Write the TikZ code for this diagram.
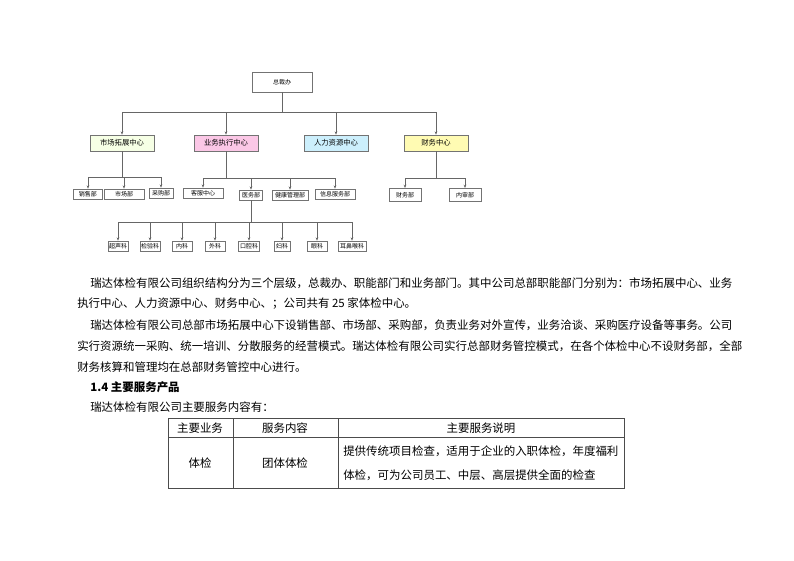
\documentclass[tikz,border=0pt]{standalone}
\usepackage{fontspec}
\setmainfont{Noto Sans CJK SC}
\usetikzlibrary{arrows.meta}
\begin{document}
\begin{tikzpicture}[x=0.75pt,y=-0.75pt,
 box/.style={draw=black!55,line width=0.5pt,fill=white,inner sep=0pt,font=\fontsize{4.5}{5}\selectfont,minimum height=7.5pt},
 cbox/.style={box,minimum height=12pt,minimum width=48pt,font=\fontsize{5.5}{6}\selectfont},
 ln/.style={draw=black!60,line width=0.6pt},
 ar/.style={ln,-{Stealth[length=2.5pt,width=2pt]}},
 para/.style={anchor=west,inner sep=0pt,font=\fontsize{8.6}{10}\selectfont},
 cell/.style={inner sep=0pt,font=\fontsize{8.6}{10}\selectfont}]
\useasboundingbox[fill=white] (0,0) rectangle (794,561);
\node[box,minimum width=45pt,minimum height=15pt] (top) at (282,82) {总裁办};
\node[cbox,fill=green!12!lime!10] (m) at (122,143) {市场拓展中心};
\node[cbox,fill=magenta!22] (y) at (226,143) {业务执行中心};
\node[cbox,fill=cyan!20] (r) at (336,143) {人力资源中心};
\node[cbox,fill=yellow!30] (c) at (436,143) {财务中心};
\coordinate (b1) at (282,112);
\draw[ln] (top) -- (b1);
\foreach \n in {m,y,r,c}{\draw[ar] (b1) -| (\n.north);}
% level 3
\node[box,minimum width=22pt] (m1) at (88,194) {销售部};
\node[box,minimum width=30pt] (m2) at (124,194) {市场部};
\node[box,minimum width=18pt] (m3) at (161,193) {采购部};
\node[box,minimum width=30pt] (y1) at (203,193) {客服中心};
\node[box,minimum width=17pt] (y2) at (251,195) {医务部};
\node[box,minimum width=27pt] (y3) at (290,195) {健康管理部};
\node[box,minimum width=30pt] (y4) at (335,194) {信息服务部};
\node[box,minimum width=24pt,minimum height=10pt] (c1) at (405,195) {财务部};
\node[box,minimum width=24pt,minimum height=10pt] (c2) at (465,195) {内审部};
\coordinate (bm) at (122,177);
\coordinate (by) at (226,178);
\coordinate (bc) at (436,178);
\draw[ln] (m) -- (bm); \draw[ln] (y) -- (by); \draw[ln] (c) -- (bc);
\foreach \n in {m1,m2,m3}{\draw[ar] (bm) -| (\n.north);}
\foreach \n in {y1,y2,y3,y4}{\draw[ar] (by) -| (\n.north);}
\foreach \n in {c1,c2}{\draw[ar] (bc) -| (\n.north);}
% level 4
\coordinate (bk) at (251,222);
\draw[ln] (y2) -- (bk);
\foreach \n/\x/\w/\t in {k1/118/15/超声科,k2/150/15/检验科,k3/182/15/内科,k4/215/15/外科,k5/249/16/口腔科,k6/282/12/妇科,k7/317/15/眼科,k8/352/21/耳鼻喉科}{
 \node[box,minimum width=\w pt] (\n) at (\x,246) {\t};
 \draw[ar] (bk) -| (\n.north);}
% text
\node[para] (p1) at (90,283) {瑞达体检有限公司组织结构分为三个层级，总裁办、职能部门和业务部门。其中公司总部职能部门分别为：市场拓展中心、业务};
\node[para] (p2) at (77,304) {执行中心、人力资源中心、财务中心、；公司共有 25 家体检中心。};
\node[para] (p3) at (90,325) {瑞达体检有限公司总部市场拓展中心下设销售部、市场部、采购部，负责业务对外宣传，业务洽谈、采购医疗设备等事务。公司};
\node[para] (p4) at (77,346) {实行资源统一采购、统一培训、分散服务的经营模式。瑞达体检有限公司实行总部财务管控模式，在各个体检中心不设财务部，全部};
\node[para] (p5) at (77,367) {财务核算和管理均在总部财务管控中心进行。};
\node[para,font=\fontsize{8.6}{10}\selectfont\bfseries] (h) at (90,387) {1.4 主要服务产品};
\node[para] (p6) at (90,407) {瑞达体检有限公司主要服务内容有：};
% table
\draw[black!70,line width=0.6pt] (168,418) rectangle (624,488);
\draw[black!70,line width=0.5pt] (168,437) -- (624,437) (233,418) -- (233,488) (338,418) -- (338,488);
\node[cell] (t1) at (200,428) {主要业务};
\node[cell] (t2) at (285,428) {服务内容};
\node[cell] (t3) at (481,428) {主要服务说明};
\node[cell] (t4) at (200,463) {体检};
\node[cell] (t5) at (285,463) {团体体检};
\node[para] (t6) at (343,451) {提供传统项目检查，适用于企业的入职体检，年度福利};
\node[para] (t7) at (343,475) {体检，可为公司员工、中层、高层提供全面的检查};
\end{tikzpicture}
\end{document}
